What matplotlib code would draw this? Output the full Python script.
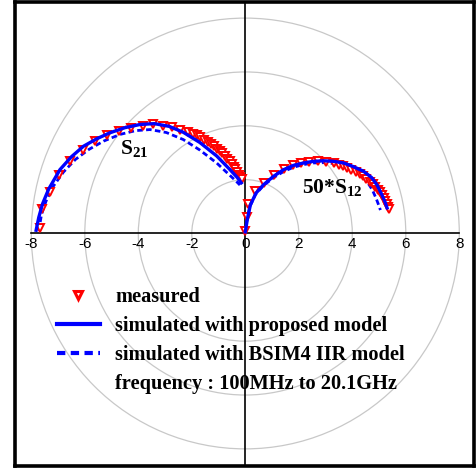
import matplotlib
matplotlib.use("Agg")
import matplotlib.pyplot as plt
from matplotlib.patches import Circle
from matplotlib.lines import Line2D

# ---------------- data ----------------
# S21 measured (real, imag)
s21_meas_re = [-7.67, -7.59, -7.30, -6.95, -6.55, -6.08, -5.62, -5.16, -4.71, -4.28,
               -3.84, -3.46, -3.06, -2.75, -2.44, -2.13, -1.95, -1.82, -1.68, -1.54,
               -1.41, -1.29, -1.18, -1.07, -0.96, -0.86, -0.76, -0.67, -0.59, -0.51,
               -0.44, -0.37, -0.31, -0.25, -0.19, -0.14]
s21_meas_im = [0.19, 0.90, 1.53, 2.16, 2.68, 3.09, 3.45, 3.65, 3.82, 3.92,
               4.00, 4.05, 4.00, 3.95, 3.86, 3.76, 3.70, 3.64, 3.57, 3.49,
               3.41, 3.33, 3.24, 3.15, 3.07, 2.98, 2.88, 2.78, 2.68, 2.58,
               2.48, 2.38, 2.28, 2.18, 2.10, 2.03]
# S21 simulated, proposed model
s21_prop_re = [-7.82, -7.72, -7.58, -7.35, -6.93, -6.50, -6.05, -5.55, -5.06, -4.50,
               -3.93, -3.40, -2.85, -2.32, -1.70, -1.07, -0.60, -0.30, -0.15]
s21_prop_im = [0.12, 0.60, 1.10, 1.65, 2.37, 2.85, 3.24, 3.52, 3.74, 3.93,
               4.05, 4.08, 3.98, 3.76, 3.38, 2.88, 2.40, 2.08, 1.88]
# S21 simulated, BSIM4 IIR model
s21_bsim_re = [-7.72, -7.62, -7.45, -7.18, -6.80, -6.35, -5.85, -5.30, -4.68, -4.10,
               -3.56, -2.95, -2.32, -1.70, -1.07, -0.60, -0.35, -0.20]
s21_bsim_im = [0.10, 0.70, 1.20, 1.75, 2.28, 2.75, 3.12, 3.43, 3.68, 3.82,
               3.86, 3.75, 3.49, 3.10, 2.62, 2.18, 1.95, 1.80]

# 50*S12 measured
s12_meas_re = [0.00, 0.05, 0.11, 0.36, 0.71, 1.08, 1.46, 1.77, 2.08, 2.39,
               2.71, 3.02, 3.33, 3.50, 3.64, 3.80, 3.96, 4.12, 4.27, 4.40,
               4.52, 4.65, 4.77, 4.86, 4.95, 5.03, 5.10, 5.17, 5.23, 5.28,
               5.33, 5.37]
s12_meas_im = [0.08, 0.62, 1.08, 1.56, 1.88, 2.16, 2.38, 2.53, 2.61, 2.65,
               2.68, 2.65, 2.61, 2.55, 2.49, 2.43, 2.37, 2.29, 2.21, 2.12,
               2.03, 1.93, 1.83, 1.73, 1.62, 1.53, 1.43, 1.32, 1.21, 1.10,
               1.00, 0.90]
# 50*S12 simulated, proposed model
s12_prop_re = [0.00, 0.08, 0.19, 0.40, 0.68, 1.05, 1.43, 1.80, 2.18, 2.55,
               2.93, 3.30, 3.67, 4.05, 4.42, 4.72, 4.92, 5.11, 5.22, 5.30]
s12_prop_im = [0.06, 0.55, 1.06, 1.50, 1.81, 2.12, 2.37, 2.53, 2.62, 2.68,
               2.70, 2.68, 2.62, 2.48, 2.31, 2.08, 1.81, 1.43, 1.18, 0.95]
# 50*S12 simulated, BSIM4 IIR model
s12_bsim_re = [0.00, 0.06, 0.17, 0.38, 0.68, 1.05, 1.43, 1.80, 2.18, 2.55,
               2.93, 3.30, 3.67, 4.00, 4.30, 4.55, 4.75, 4.90, 5.00, 5.05]
s12_bsim_im = [0.05, 0.50, 1.00, 1.45, 1.78, 2.07, 2.30, 2.46, 2.56, 2.62,
               2.63, 2.60, 2.52, 2.38, 2.18, 1.93, 1.62, 1.28, 1.02, 0.87]

grid_radii = [2, 4, 6, 8]
tick_values = [-8, -6, -4, -2, 0, 2, 4, 6, 8]
legend_labels = ["measured", "simulated with proposed model",
                 "simulated with BSIM4 IIR model", "frequency : 100MHz to 20.1GHz"]

# ---------------- figure ----------------
plt.rcParams['mathtext.fontset'] = 'custom'
plt.rcParams['mathtext.rm'] = 'Liberation Serif'
plt.rcParams['mathtext.bf'] = 'Liberation Serif:bold'

W, H = 476, 468
fig = plt.figure(figsize=(W / 100, H / 100), dpi=100)
ax = fig.add_axes([14.5 / W, 2 / H, (473.5 - 14.5) / W, (466 - 2) / H])
ax.set_xlim(-8.628, 8.531)
ax.set_ylim(-8.636, 8.598)
ax.set_xticks([])
ax.set_yticks([])
for sp in ax.spines.values():
    sp.set_linewidth(2.6)
    sp.set_color('black')

for r in grid_radii:
    ax.add_patch(Circle((0, 0), r, fill=False, ec='#c8c8c8', lw=0.9, zorder=1))

ax.plot([tick_values[0], tick_values[-1]], [0, 0], color='black', lw=1.2, zorder=2)
ax.axvline(0, color='black', lw=1.2, zorder=2)

for t in tick_values:
    ax.text(t, -0.38, f"{t}", ha='center', va='center', fontsize=11,
            family='Liberation Sans', zorder=6)

blue = '#0000ff'
red = '#ff0000'
mk = dict(marker='v', ls='none', ms=5.2, mfc='white', mec=red, mew=1.4, zorder=4)

ax.plot(s21_bsim_re, s21_bsim_im, color=blue, lw=2.0, ls=(0, (2.0, 1.2)), zorder=3)
ax.plot(s12_bsim_re, s12_bsim_im, color=blue, lw=2.0, ls=(0, (2.0, 1.2)), zorder=3)
ax.plot(s21_meas_re, s21_meas_im, **mk)
ax.plot(s12_meas_re, s12_meas_im, **mk)
ax.plot(s21_prop_re, s21_prop_im, color=blue, lw=2.4, zorder=5)
ax.plot(s12_prop_re, s12_prop_im, color=blue, lw=2.4, zorder=5)

ax.text(-4.68, 2.92, r'$\mathbf{S}_{\mathbf{21}}$', fontsize=15.5, ha='left', va='baseline', zorder=6)
ax.text(2.11, 1.50, r'$\mathbf{50{*}S}_{\mathbf{12}}$', fontsize=15.5, ha='left', va='baseline', zorder=6)

handles = [
    Line2D([], [], marker='v', ls='none', ms=6, mfc='white', mec=red, mew=2.2),
    Line2D([], [], color=blue, lw=3),
    Line2D([], [], color=blue, lw=3, ls=(0, (2.0, 1.3))),
    Line2D([], [], color='none'),
]
leg = ax.legend(handles, legend_labels, loc='upper left',
                bbox_to_anchor=(57 / W, 1 - 287 / H), bbox_transform=fig.transFigure,
                frameon=False, prop={'family': 'Liberation Serif', 'weight': 'bold', 'size': 14.7},
                handlelength=2.1, handletextpad=0.75, labelspacing=0.44,
                borderpad=0, borderaxespad=0)
leg.set_zorder(7)

fig.savefig('out.png', dpi=100)
